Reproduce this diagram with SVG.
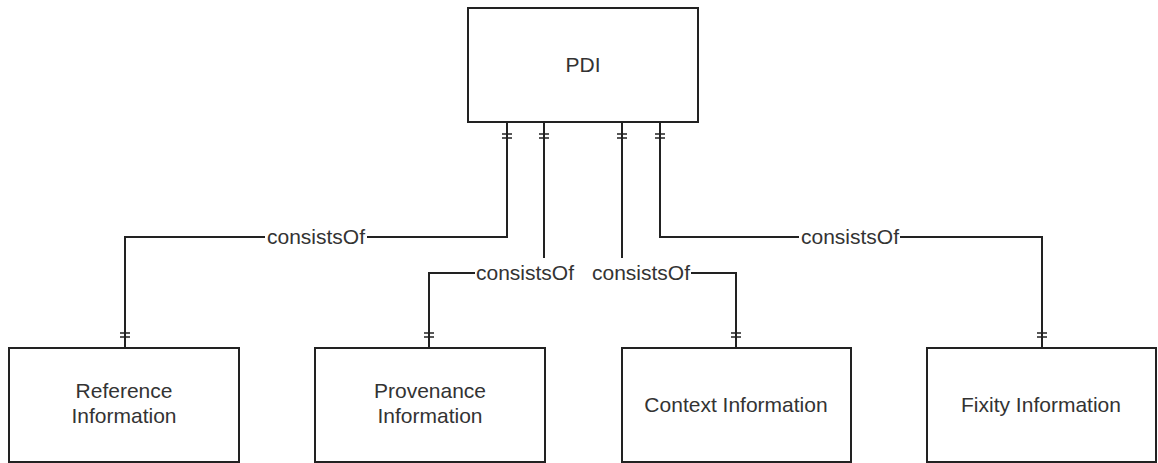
<svg xmlns="http://www.w3.org/2000/svg" width="1158" height="463" viewBox="0 0 1158 463">
<style>
.box{fill:#fff;stroke:#222;stroke-width:2}
.t{font-family:"Liberation Sans",Arial,sans-serif;font-size:21px;fill:#333;text-anchor:middle}
.c{fill:none;stroke:#222;stroke-width:2}
.tk{stroke:#222;stroke-width:1.6}
.lb{fill:#fff}
</style>
<rect width="1158" height="463" fill="#fff"/>
<g id="connectors">
  <path class="c" d="M507,122 V237 H125 V348"/>
  <path class="c" d="M544,122 V273 H429 V348"/>
  <path class="c" d="M622,122 V273 H736 V348"/>
  <path class="c" d="M660,122 V237 H1042 V348"/>
  <g class="tk">
    <path d="M502,134 H512 M502,138 H512"/>
    <path d="M539,134 H549 M539,138 H549"/>
    <path d="M617,134 H627 M617,138 H627"/>
    <path d="M655,134 H665 M655,138 H665"/>
    <path d="M120,333 H130 M120,337 H130"/>
    <path d="M424,333 H434 M424,337 H434"/>
    <path d="M731,333 H741 M731,337 H741"/>
    <path d="M1037,333 H1047 M1037,337 H1047"/>
  </g>
  <rect class="lb" x="265" y="226" width="102" height="22"/>
  <text class="t" x="316" y="244">consistsOf</text>
  <rect class="lb" x="475" y="258" width="100" height="24"/>
  <text class="t" x="525" y="280">consistsOf</text>
  <rect class="lb" x="591" y="258" width="100" height="24"/>
  <text class="t" x="641" y="280">consistsOf</text>
  <rect class="lb" x="799" y="226" width="101" height="22"/>
  <text class="t" x="850" y="244">consistsOf</text>
</g>
<g id="pdi">
  <rect class="box" x="468" y="8" width="230" height="114"/>
  <text class="t" x="583" y="72">PDI</text>
</g>
<g id="reference">
  <rect class="box" x="9" y="348" width="230" height="114"/>
  <text class="t" x="124" y="398">Reference</text>
  <text class="t" x="124" y="423">Information</text>
</g>
<g id="provenance">
  <rect class="box" x="315" y="348" width="230" height="114"/>
  <text class="t" x="430" y="398">Provenance</text>
  <text class="t" x="430" y="423">Information</text>
</g>
<g id="context">
  <rect class="box" x="622" y="348" width="229" height="114"/>
  <text class="t" x="736" y="412">Context Information</text>
</g>
<g id="fixity">
  <rect class="box" x="927" y="348" width="229" height="114"/>
  <text class="t" x="1041" y="412">Fixity Information</text>
</g>
</svg>
